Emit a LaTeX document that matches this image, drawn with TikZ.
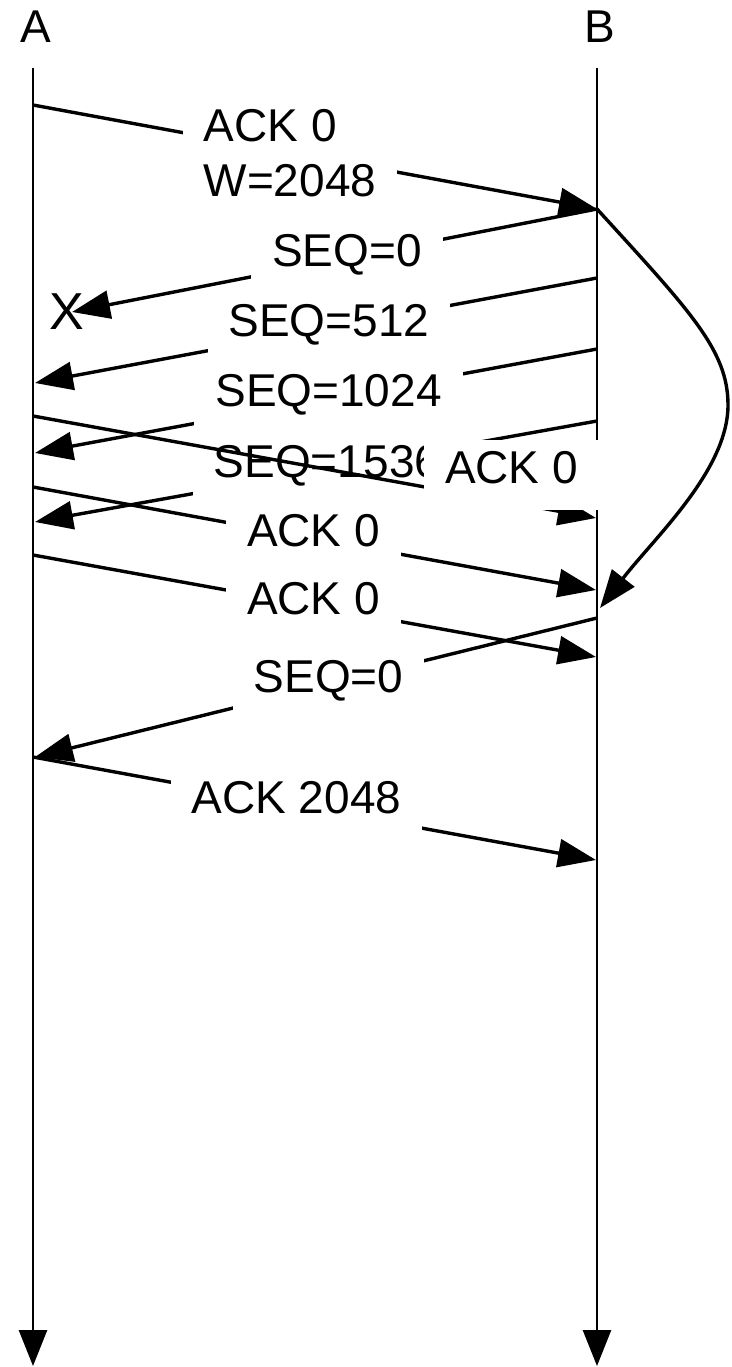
\documentclass[tikz,border=0pt]{standalone}
\usepackage{fontspec}
\setmainfont{Liberation Sans}
\usetikzlibrary{arrows.meta}
\begin{document}
\begin{tikzpicture}[x=1pt,y=-1pt,
  txt/.style={font=\fontsize{46pt}{55pt}\selectfont},
  life/.style={line width=2.8pt,-{Triangle[length=36pt,width=28pt]}},
  msg/.style={line width=3.4pt,-{Triangle[length=38pt,width=28pt]}},
  lbl/.style={txt,fill=white,inner xsep=21pt,inner ysep=0pt,text height=43pt,text depth=27pt},
  lbltwo/.style={txt,fill=white,inner xsep=21pt,inner ysep=8pt,align=left}]
\useasboundingbox (0,0) rectangle (731,1367);
% lifelines
\coordinate (Atop) at (33,68); \coordinate (Abot) at (33,1366);
\coordinate (Btop) at (597,68); \coordinate (Bbot) at (597,1366);
\node[txt,anchor=base,inner sep=0pt] (Alab) at (36,43) {A};
\node[txt,anchor=base,inner sep=0pt] (Blab) at (600,43) {B};
\draw[life] (Atop) -- (Abot);
\draw[life] (Btop) -- (Bbot);
% message end points
\coordinate (a1) at (33,105);  \coordinate (b1) at (597,209);
\coordinate (x1) at (72,312);
\coordinate (b2) at (597,278); \coordinate (a2) at (35,383);
\coordinate (b3) at (597,349); \coordinate (a3) at (35,453);
\coordinate (b4) at (597,421); \coordinate (a4) at (35,522);
\coordinate (a5) at (33,416);  \coordinate (b5) at (596,518);
\coordinate (a6) at (33,487);  \coordinate (b6) at (596,590);
\coordinate (a7) at (33,555);  \coordinate (b7) at (596,657);
\coordinate (tr) at (728,405);
\coordinate (b8) at (600,608);
\coordinate (b9) at (597,618); \coordinate (a8) at (35,757);
\coordinate (a9) at (33,757);  \coordinate (b10) at (596,860);
% lost segment marker
\node[font=\fontsize{52pt}{60pt}\selectfont,inner sep=0pt] (lost) at (67,312) {X};
% messages
\draw[msg] (a1) -- (b1);
\node[lbltwo] (l1) at (290,153) {ACK 0\\W=2048};
\draw[msg] (b1) -- (x1);
\node[lbl] (l2) at (347,258) {SEQ=0};
\draw[msg] (b2) -- (a2);
\node[lbl] (l3) at (329,328) {SEQ=512};
\draw[msg] (b3) -- (a3);
\node[lbl] (l4) at (328.5,398.7) {SEQ=1024};
\draw[msg] (b4) -- (a4);
\node[lbl] (l5) at (327,469.5) {SEQ=1536};
\draw[msg] (a5) -- (b5);
\node[lbl] (l6) at (511.5,475) {ACK 0};
\draw[msg] (a6) -- (b6);
\node[lbl] (l7) at (313.5,538.5) {ACK 0};
\draw[msg] (a7) -- (b7);
\node[lbl] (l8) at (313.5,606) {ACK 0};
% retransmission timer
\draw[msg] (b1) .. controls (690,311) and (728,350) .. (tr)
               .. controls (728,470) and (655,537) .. (b8);
\draw[msg] (b9) -- (a8);
\node[lbl] (l9) at (328.5,684) {SEQ=0};
\draw[msg] (a9) -- (b10);
\node[lbl] (l10) at (296.5,805) {ACK 2048};
\end{tikzpicture}
\end{document}
